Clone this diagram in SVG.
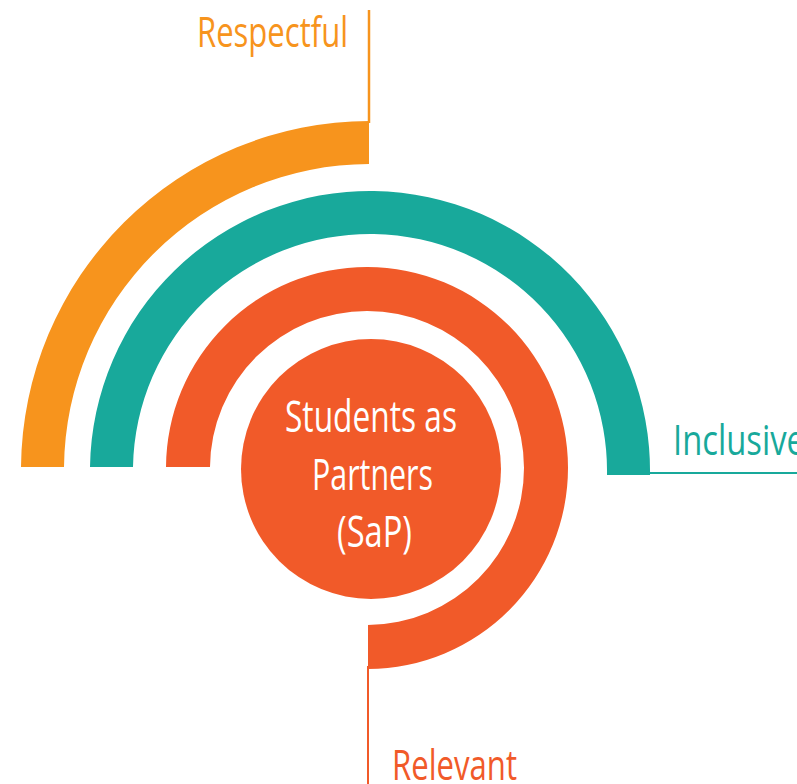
<svg xmlns="http://www.w3.org/2000/svg" width="797" height="784" viewBox="0 0 797 784">
  <style>
    .lbl { font-family: "Open Sans", "Noto Sans", "Liberation Sans", sans-serif; font-size: 42px; }
    .center { font-family: "Open Sans", "Noto Sans", "Liberation Sans", sans-serif; font-size: 43px; fill: #FFFFFF; text-anchor: start; }
    .orange { fill: #F7941D; }
    .teal { fill: #18A99B; }
    .red { fill: #F15A29; }
  </style>
  <rect x="0" y="0" width="797" height="784" fill="#FFFFFF"/>

  <g id="connectors">
    <line x1="369" y1="10" x2="369" y2="123" stroke="#F7941D" stroke-width="2.5"/>
    <line x1="648" y1="473" x2="797" y2="473" stroke="#18A99B" stroke-width="2"/>
    <line x1="368" y1="666" x2="368" y2="784" stroke="#F15A29" stroke-width="2"/>
  </g>

  <g id="respectful">
    <path class="orange" d="M21,467 A349,349 0 0 1 369,121 L369,164 A306,306 0 0 0 64,467 Z"/>
    <text class="lbl orange" x="197" y="47" textLength="151" lengthAdjust="spacingAndGlyphs">Respectful</text>
  </g>

  <g id="inclusive">
    <path class="teal" d="M90,467 A280,280 0 0 1 650,475 L607,475 A237,237 0 0 0 133,467 Z"/>
    <text class="lbl teal" x="673" y="455" textLength="132" lengthAdjust="spacingAndGlyphs">Inclusive</text>
  </g>

  <g id="relevant">
    <path class="red" d="M166,467 A201,201 0 1 1 368,669 L368,625 A157,157 0 1 0 210,467 Z"/>
    <text class="lbl red" x="392" y="780" textLength="125" lengthAdjust="spacingAndGlyphs">Relevant</text>
  </g>

  <g id="sap">
    <circle class="red" cx="371" cy="469" r="130"/>
    <text class="center" x="285" y="432" textLength="172" lengthAdjust="spacingAndGlyphs">Students as</text>
    <text class="center" x="312" y="490" textLength="121" lengthAdjust="spacingAndGlyphs">Partners</text>
    <text class="center" x="337" y="547" textLength="75" lengthAdjust="spacingAndGlyphs">(SaP)</text>
  </g>
</svg>
